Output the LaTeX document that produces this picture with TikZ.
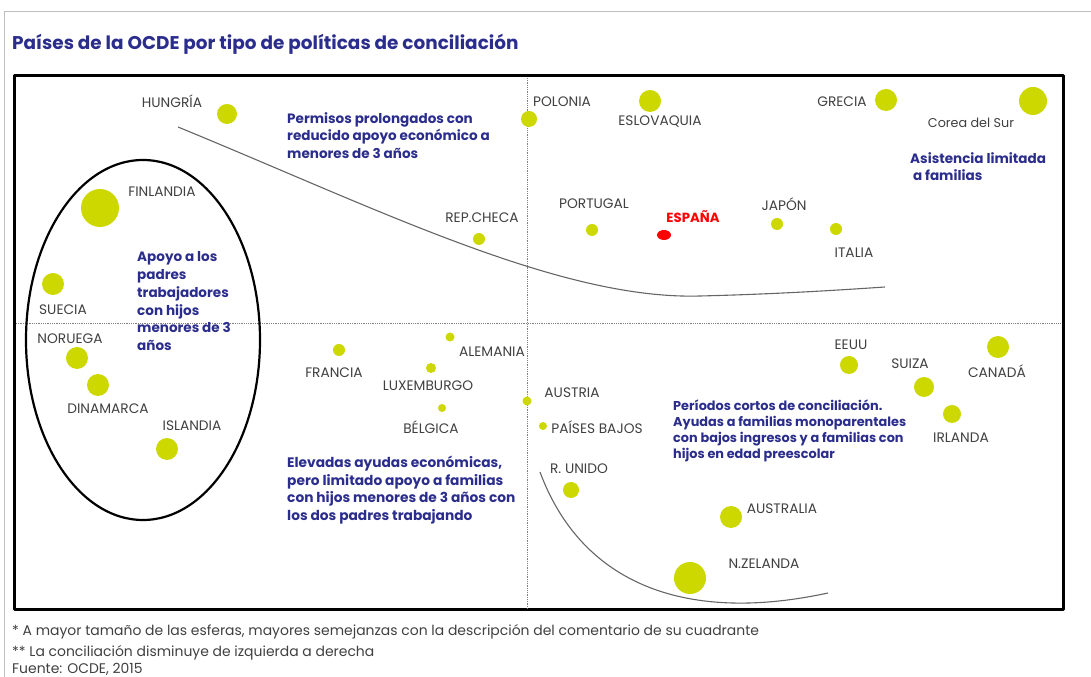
\documentclass[tikz,border=0pt]{standalone}
\usepackage{fontspec}
\setmainfont{Poppins}
\usetikzlibrary{shapes.geometric}
\definecolor{dotgreen}{RGB}{204,216,0}
\definecolor{notblue}{RGB}{43,45,140}
\definecolor{lblgray}{RGB}{64,64,64}
\definecolor{framegray}{RGB}{190,190,190}
\tikzset{
  dot/.style={circle,fill=dotgreen,inner sep=0pt},
  lbl/.style={text=lblgray,inner sep=0pt,font=\fontsize{13.8}{15}\selectfont},
  note/.style={text=notblue,inner sep=0pt,anchor=north west,align=left,font=\bfseries\fontsize{13.6}{18}\selectfont},
  foot/.style={text=lblgray,inner sep=0pt,anchor=west,font=\fontsize{14}{15}\selectfont},
}
\begin{document}
\begin{tikzpicture}[line join=bevel]
\useasboundingbox (0bp,0bp) rectangle (1091bp,677bp);
%%
\draw [framegray,line width=0.8bp] (4bp,0bp) -- (4bp,666bp) -- (1091bp,666bp);
\node (title) at (12bp,633bp) [anchor=west,inner sep=0pt,text=notblue,font=\bfseries\fontsize{18.5}{20}\selectfont] {Países de la OCDE por tipo de políticas de conciliación};
\draw [black,line width=3bp] (14bp,67bp) rectangle (1063bp,601bp);
\coordinate (axis_top) at (527bp,599bp);
\coordinate (axis_bottom) at (527bp,69bp);
\coordinate (axis_left) at (16bp,354bp);
\coordinate (axis_right) at (1061bp,354bp);
\draw [gray,densely dotted,line width=0.8bp] (axis_top) -- (axis_bottom);
\draw [gray,densely dotted,line width=0.8bp] (axis_left) -- (axis_right);
\draw [black,line width=2.2bp] (143bp,337bp) ellipse [x radius=117bp,y radius=180bp];
\draw [gray!80!black,line width=1.1bp] (178bp,550bp) .. controls (380bp,467bp) and (560bp,377bp) .. (700bp,381bp)
  .. controls (780bp,383bp) and (840bp,387bp) .. (885bp,390bp);
\draw [gray!80!black,line width=1.1bp] (540bp,205bp) .. controls (580bp,97bp) and (680bp,52bp) .. (828bp,84bp);
%
  \node (hungria) at (227bp,563bp) [dot,minimum size=20bp] {};
  \node (polonia) at (529bp,558bp) [dot,minimum size=16bp] {};
  \node (eslovaquia) at (650bp,576bp) [dot,minimum size=22bp] {};
  \node (grecia) at (886bp,577bp) [dot,minimum size=22bp] {};
  \node (corea) at (1033bp,576bp) [dot,minimum size=28bp] {};
  \node (finlandia) at (100bp,469bp) [dot,minimum size=38bp] {};
  \node (suecia) at (53bp,393bp) [dot,minimum size=22bp] {};
  \node (noruega) at (77bp,319bp) [dot,minimum size=22bp] {};
  \node (dinamarca) at (98bp,292bp) [dot,minimum size=22bp] {};
  \node (islandia) at (167bp,228bp) [dot,minimum size=22bp] {};
  \node (rep_checa) at (479bp,438bp) [dot,minimum size=12bp] {};
  \node (portugal) at (592bp,447bp) [dot,minimum size=12bp] {};
  \node (espana) at (664bp,442bp) [ellipse,fill=red,inner sep=0pt,minimum width=14bp,minimum height=10bp] {};
  \node (japon) at (777bp,453bp) [dot,minimum size=12bp] {};
  \node (italia) at (836bp,448bp) [dot,minimum size=12bp] {};
  \node (francia) at (339bp,327bp) [dot,minimum size=12bp] {};
  \node (alemania) at (450bp,340bp) [dot,minimum size=9bp] {};
  \node (luxemburgo) at (431bp,309bp) [dot,minimum size=10bp] {};
  \node (belgica) at (442bp,269bp) [dot,minimum size=8bp] {};
  \node (austria) at (527bp,276bp) [dot,minimum size=9bp] {};
  \node (paises_bajos) at (543bp,251bp) [dot,minimum size=8bp] {};
  \node (r_unido) at (571bp,187bp) [dot,minimum size=16bp] {};
  \node (australia) at (731bp,160bp) [dot,minimum size=22bp] {};
  \node (n_zelanda) at (690bp,99bp) [dot,minimum size=32bp] {};
  \node (eeuu) at (849bp,312bp) [dot,minimum size=18bp] {};
  \node (suiza) at (924bp,290bp) [dot,minimum size=20bp] {};
  \node (canada) at (998bp,330bp) [dot,minimum size=22bp] {};
  \node (irlanda) at (952bp,263bp) [dot,minimum size=18bp] {};
%
  \node (hungria_lbl) at (172bp,576bp) [lbl] {HUNGRÍA};
  \node (polonia_lbl) at (562bp,575bp) [lbl] {POLONIA};
  \node (eslovaquia_lbl) at (660bp,555bp) [lbl] {ESLOVAQUIA};
  \node (grecia_lbl) at (842bp,575bp) [lbl] {GRECIA};
  \node (corea_lbl) at (971bp,554bp) [lbl,font=\fontsize{12.8}{14}\selectfont] {Corea del Sur};
  \node (finlandia_lbl) at (162bp,485bp) [lbl] {FINLANDIA};
  \node (suecia_lbl) at (63bp,367bp) [lbl] {SUECIA};
  \node (noruega_lbl) at (70bp,338bp) [lbl] {NORUEGA};
  \node (dinamarca_lbl) at (108bp,268bp) [lbl] {DINAMARCA};
  \node (islandia_lbl) at (192bp,251bp) [lbl] {ISLANDIA};
  \node (rep_checa_lbl) at (482bp,459bp) [lbl] {REP.CHECA};
  \node (portugal_lbl) at (594bp,473bp) [lbl] {PORTUGAL};
  \node (espana_lbl) at (693bp,460bp) [lbl,text=red,font=\bfseries\fontsize{13.3}{15}\selectfont] {ESPAÑA};
  \node (japon_lbl) at (784bp,473bp) [lbl] {JAPÓN};
  \node (italia_lbl) at (854bp,424bp) [lbl] {ITALIA};
  \node (francia_lbl) at (334bp,304bp) [lbl] {FRANCIA};
  \node (alemania_lbl) at (492bp,325bp) [lbl] {ALEMANIA};
  \node (luxemburgo_lbl) at (428bp,291bp) [lbl] {LUXEMBURGO};
  \node (belgica_lbl) at (431bp,250bp) [lbl] {BÉLGICA};
  \node (austria_lbl) at (572bp,284bp) [lbl] {AUSTRIA};
  \node (paises_bajos_lbl) at (597bp,250bp) [lbl] {PAÍSES BAJOS};
  \node (r_unido_lbl) at (579bp,208bp) [lbl] {R. UNIDO};
  \node (australia_lbl) at (782bp,168bp) [lbl] {AUSTRALIA};
  \node (n_zelanda_lbl) at (764bp,113bp) [lbl] {N.ZELANDA};
  \node (eeuu_lbl) at (851bp,332bp) [lbl] {EEUU};
  \node (suiza_lbl) at (910bp,313bp) [lbl] {SUIZA};
  \node (canada_lbl) at (997bp,306bp) [lbl] {CANADÁ};
  \node (irlanda_lbl) at (961bp,239bp) [lbl] {IRLANDA};
%
  \node (permisos) at (287bp,565bp) [note] {Permisos prolongados con\\reducido apoyo económico a\\menores de 3 años};
  \node (asistencia) at (910bp,525bp) [note] {Asistencia limitada\\\ a familias};
  \node (apoyo) at (137bp,426bp) [note] {Apoyo a los\\padres\\trabajadores\\con hijos\\menores de 3\\años};
  \node (elevadas) at (287bp,221bp) [note,font=\bfseries\fontsize{13.8}{17.7}\selectfont] {Elevadas ayudas económicas,\\pero limitado apoyo a familias\\con hijos menores de 3 años con\\los dos padres trabajando};
  \node (periodos) at (673bp,277bp) [note,font=\bfseries\fontsize{12.9}{16}\selectfont] {Períodos cortos de conciliación.\\Ayudas a familias monoparentales\\con bajos ingresos y a familias con\\hijos en edad preescolar};
%
  \node (foot1) at (12bp,45bp) [foot] {* A mayor tamaño de las esferas, mayores semejanzas con la descripción del comentario de su cuadrante};
  \node (foot2) at (12bp,24bp) [foot] {** La conciliación disminuye de izquierda a derecha};
  \node (foot3) at (12bp,8bp) [foot] {Fuente: OCDE, 2015};
%
\end{tikzpicture}
\end{document}
